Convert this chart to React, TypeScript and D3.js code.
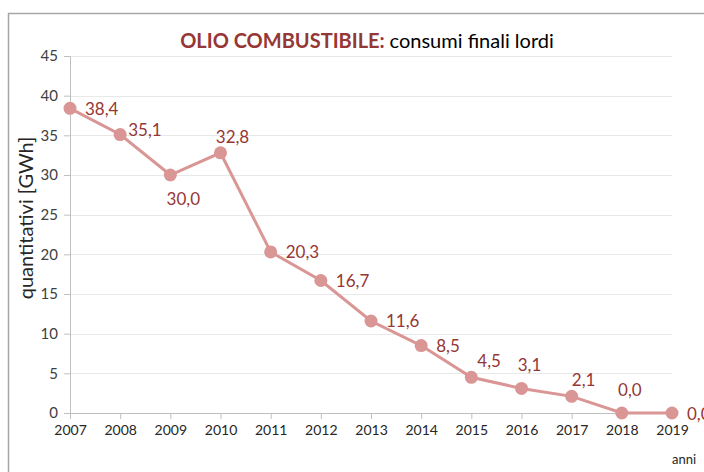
import { useRef, useEffect } from "react";
import * as d3 from "d3";

const years = ["2007", "2008", "2009", "2010", "2011", "2012", "2013", "2014", "2015", "2016", "2017", "2018", "2019"];
const values = [38.4, 35.1, 30.0, 32.8, 20.3, 16.7, 11.6, 8.5, 4.5, 3.1, 2.1, 0.0, 0.0];
// where each value label sits relative to its point
const labelPlace = ["right", "rightUp", "below", "aboveNear", "right", "right", "right", "right", "upRight", "above", "aboveNear", "above", "right"];
const yTicks = [0, 5, 10, 15, 20, 25, 30, 35, 40, 45];

const W = 704;
const H = 472;
const FONT = "Lato, 'Open Sans', sans-serif";

export default function App() {
  const svgRef = useRef<SVGSVGElement>(null);

  useEffect(() => {
    if (!svgRef.current) return;
    const svg = d3.select(svgRef.current);
    svg.selectAll("*").remove();

    const margin = { top: 56, left: 70, right: 32, bottom: 59 };
    const w = W - margin.left - margin.right;
    const h = H - margin.top - margin.bottom;

    // outer chart border
    svg.append("rect")
      .attr("x", 8.5).attr("y", 13.5)
      .attr("width", W).attr("height", H)
      .attr("fill", "white")
      .attr("stroke", "#a6a6a6")
      .attr("stroke-width", 1.5);

    const g = svg.append("g").attr("transform", `translate(${margin.left},${margin.top})`);

    const x = d3.scalePoint<string>().domain(years).range([0, w]);
    const y = d3.scaleLinear().domain([0, 45]).range([h, 0]);

    // horizontal gridlines, very faint
    g.append("g")
      .selectAll("line")
      .data(yTicks.filter((t) => t > 0))
      .join("line")
      .attr("x1", 0)
      .attr("x2", w)
      .attr("y1", (d) => Math.round(y(d)) + 0.5)
      .attr("y2", (d) => Math.round(y(d)) + 0.5)
      .attr("stroke", "#e2e2e2")
      .attr("stroke-width", 0.8);

    const yAxis = g.append("g")
      .call(d3.axisLeft(y).tickValues(yTicks).tickSize(6).tickPadding(6).tickFormat(d3.format("d")));
    yAxis.selectAll("text").attr("fill", "#404040").attr("font-size", "15px").attr("font-family", FONT);

    const xAxis = g.append("g")
      .attr("transform", `translate(0,${h})`)
      .call(d3.axisBottom(x).tickSize(6).tickPadding(6).tickSizeOuter(0));
    xAxis.selectAll("text").attr("fill", "#262626").attr("font-size", "14px").attr("font-family", FONT);

    g.selectAll(".domain").attr("stroke", "#bfbfbf").attr("stroke-width", 1);
    g.selectAll(".tick line").attr("stroke", "#bfbfbf");

    const line = d3.line<number>()
      .x((_, i) => x(years[i]) ?? 0)
      .y((d) => y(d));

    g.append("path")
      .datum(values)
      .attr("fill", "none")
      .attr("stroke", "#d99694")
      .attr("stroke-width", 3)
      .attr("d", line);

    g.selectAll("circle.pt")
      .data(values)
      .join("circle")
      .attr("class", "pt")
      .attr("cx", (_, i) => x(years[i]) ?? 0)
      .attr("cy", (d) => y(d))
      .attr("r", 6.5)
      .attr("fill", "#d99694");

    const fmt = (v: number) => v.toFixed(1).replace(".", ",");
    const offsets: Record<string, [number, number, string]> = {
      right: [15, 6.5, "start"],
      rightUp: [8, 1, "start"],
      upRight: [6, -10, "start"],
      below: [13, 30, "middle"],
      above: [8, -17, "middle"],
      aboveNear: [12, -10, "middle"],
    };

    g.selectAll("text.lbl")
      .data(values)
      .join("text")
      .attr("class", "lbl")
      .attr("x", (_, i) => (x(years[i]) ?? 0) + offsets[labelPlace[i]][0])
      .attr("y", (d, i) => y(d) + offsets[labelPlace[i]][1])
      .attr("text-anchor", (_, i) => offsets[labelPlace[i]][2])
      .attr("fill", "#953735")
      .attr("font-size", "17px")
      .attr("font-family", FONT)
      .text((d) => fmt(d));

    // y axis title
    svg.append("text")
      .attr("transform", `translate(33,218) rotate(-90)`)
      .attr("text-anchor", "middle")
      .attr("fill", "#262626")
      .attr("font-size", "20px")
      .attr("font-family", FONT)
      .text("quantitativi [GWh]");

    svg.append("text")
      .attr("x", 672)
      .attr("y", 464)
      .attr("fill", "#262626")
      .attr("font-size", "13px")
      .attr("font-family", FONT)
      .text("anni");

    const title = svg.append("text")
      .attr("x", 367)
      .attr("y", 48)
      .attr("text-anchor", "middle")
      .attr("font-size", "20px")
      .attr("font-family", FONT);
    title.append("tspan").attr("fill", "#953735").attr("font-weight", "bold").text("OLIO COMBUSTIBILE: ");
    title.append("tspan").attr("fill", "#000").text("consumi finali lordi");
  }, []);

  return (
    <svg
      ref={svgRef}
      width={W}
      height={H}
      style={{ position: "absolute", left: 0, top: 0, display: "block" }}
    />
  );
}
